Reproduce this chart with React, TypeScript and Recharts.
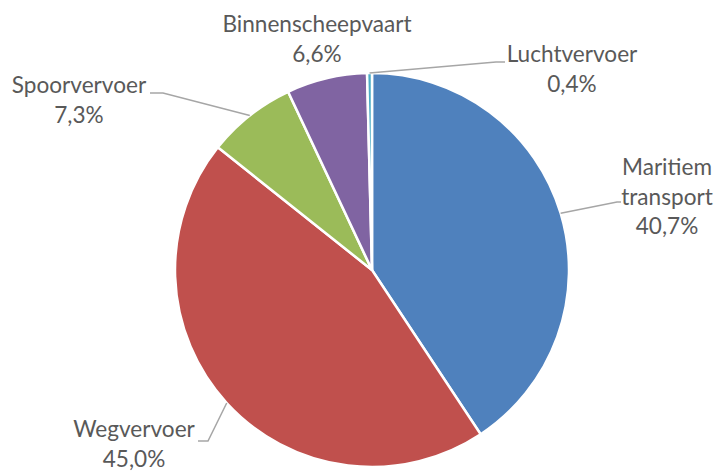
import React from 'react';
import { PieChart, Pie, Cell } from 'recharts';

// vervoerswijzen, met klok mee vanaf 12 uur
const categories = ['Maritiem transport', 'Wegvervoer', 'Spoorvervoer', 'Binnenscheepvaart', 'Luchtvervoer'];
const shares = [40.7, 45.0, 7.3, 6.6, 0.4];
const colors = ['#4F81BD', '#C0504D', '#9BBB59', '#8064A2', '#4BACC6'];

const rows = categories.map((name, i) => ({ name, value: shares[i] }));

// where each label sits (text centre, first baseline) and the leader elbow
const labelLayout: Record<string, { x: number; y: number; wrap?: boolean; leader?: [number, number][] }> = {
  'Maritiem transport': { x: 667, y: 175, wrap: true, leader: [[617, 202], [621, 202]] },
  Wegvervoer: { x: 134, y: 437, leader: [[208, 441], [198, 441]] },
  Spoorvervoer: { x: 79, y: 93, leader: [[163, 93], [150, 93]] },
  Binnenscheepvaart: { x: 317, y: 32 },
  Luchtvervoer: { x: 572, y: 62, leader: [[496, 62], [505, 62]] }
};

const RADIAN = Math.PI / 180;
const fmt = (v: number) => v.toFixed(1).replace('.', ',') + '%';

function SliceLabel(props: any) {
  const { cx, cy, midAngle, outerRadius, name, value } = props;
  const lay = labelLayout[name];
  if (!lay) return null;
  const ex = cx + outerRadius * Math.cos(-midAngle * RADIAN);
  const ey = cy + outerRadius * Math.sin(-midAngle * RADIAN);
  const lines = lay.wrap ? [...name.split(' '), fmt(value)] : [name, fmt(value)];
  const pts = lay.leader ? [[ex, ey], ...lay.leader] : null;
  return (
    <g>
      {pts && (
        <polyline
          points={pts.map((p) => p.join(',')).join(' ')}
          fill="none"
          stroke="#A6A6A6"
          strokeWidth={1.5}
        />
      )}
      <text x={lay.x} y={lay.y} textAnchor="middle" fill="#595959" fontSize={22.6} fontFamily="Lato, sans-serif">
        {lines.map((l, i) => (
          <tspan key={i} x={lay.x} dy={i === 0 ? 0 : 29.5}>
            {l}
          </tspan>
        ))}
      </text>
    </g>
  );
}

export default function App() {
  return (
    <div style={{ position: 'absolute', left: 0, top: 0, width: 719, height: 472, background: '#fff' }}>
      <PieChart width={719} height={472} margin={{ top: 0, right: 0, bottom: 0, left: 0 }}>
        <Pie
          data={rows}
          dataKey="value"
          nameKey="name"
          cx={372}
          cy={270}
          outerRadius={197}
          startAngle={90}
          endAngle={-270}
          stroke="#ffffff"
          strokeWidth={2.5}
          label={SliceLabel}
          labelLine={false}
          isAnimationActive={false}
        >
          {rows.map((r, i) => (
            <Cell key={r.name} fill={colors[i]} />
          ))}
        </Pie>
      </PieChart>
    </div>
  );
}
